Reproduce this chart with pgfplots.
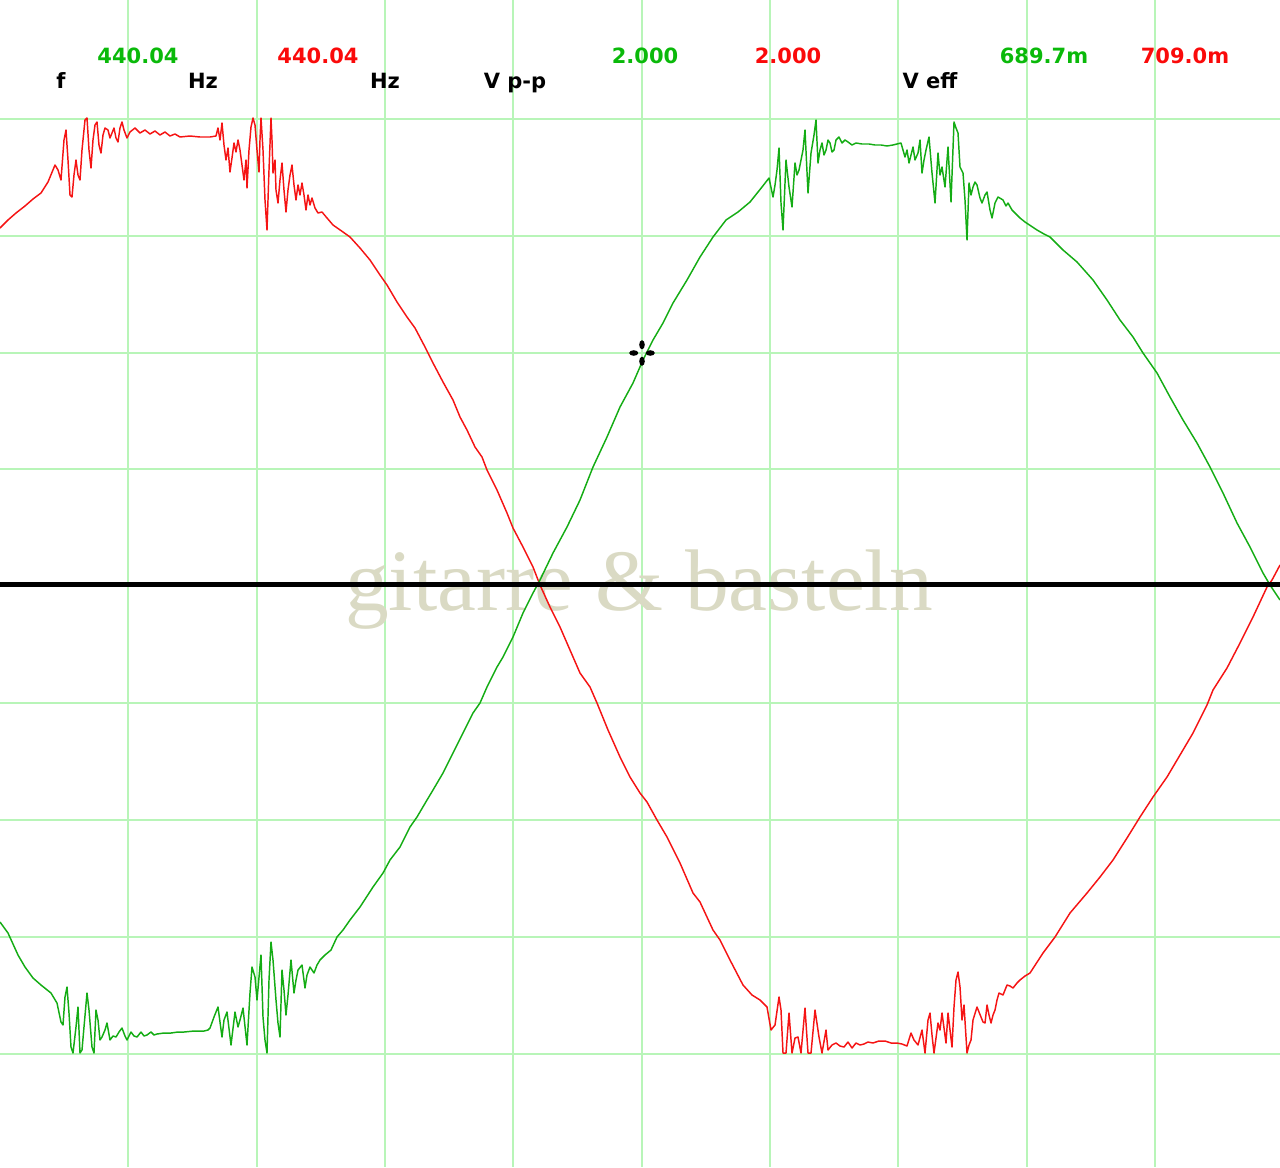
\documentclass[border=0pt]{standalone}
\usepackage{pgfplots}
\pgfplotsset{compat=1.18}
\usepackage{fontspec}
\setmainfont{DejaVu Sans}
\newfontfamily\wmfont{Liberation Serif}
\definecolor{gridg}{RGB}{184,245,184}
\definecolor{trred}{RGB}{245,20,20}
\definecolor{trgreen}{RGB}{20,172,20}
\definecolor{txgreen}{RGB}{10,185,10}
\definecolor{txred}{RGB}{250,10,10}
\definecolor{wmcol}{RGB}{218,218,196}
\pgfdeclareplotmark{cursor}{%
  \pgfpathellipse{\pgfpoint{0pt}{6.2pt}}{\pgfpoint{2.1pt}{0pt}}{\pgfpoint{0pt}{3.4pt}}%
  \pgfpathellipse{\pgfpoint{0pt}{-6.2pt}}{\pgfpoint{2.1pt}{0pt}}{\pgfpoint{0pt}{3.4pt}}%
  \pgfpathellipse{\pgfpoint{6.2pt}{0pt}}{\pgfpoint{3.4pt}{0pt}}{\pgfpoint{0pt}{2.1pt}}%
  \pgfpathellipse{\pgfpoint{-6.2pt}{0pt}}{\pgfpoint{3.4pt}{0pt}}{\pgfpoint{0pt}{2.1pt}}%
  \pgfusepathqfill}
\begin{document}
\begin{tikzpicture}
\begin{axis}[
  name=ax,
  width=960pt, height=875.25pt, scale only axis,
  xmin=0, xmax=1280, ymin=0, ymax=1167, y dir=reverse,
  axis line style={draw=none}, tick style={draw=none}, major tick length=0pt,
  xtick={128.3,256.7,385,513.3,641.7,770,898.3,1026.7,1154.5},
  ytick={118.5,235.5,352.5,469,585,703,820,937,1054},
  xticklabels={}, yticklabels={},
  grid=major, grid style={color=gridg, line width=1.5pt},
  clip=true,
]
\node[font=\wmfont\fontsize{65.6pt}{70pt}\selectfont, text=wmcol, anchor=base, inner sep=0pt] at (axis cs:639,610) {gitarre \& basteln};

% red trace
\addplot[trred, line width=1.1pt, line join=round] coordinates {
(0,228) (8,220) (16,213) (25,206) (33,199) (41,193) (48,182) (55,165) (58,170) (61,180) (64,140) (66,130) (68,160) (70,195) (72,197) (74,175) (76,160) (78,175) (80,180) (82,150) (85,120) (87,118) (89,150) (91,168) (93,140) (95,125) (97,122) (99,145) (101,153) (103,135) (105,128) (108,130) (110,138) (112,133) (114,128) (116,138) (118,142) (120,128) (122,122) (124,130) (127,138) (130,132) (135,128) (140,133) (145,130) (150,134) (155,131) (160,135) (165,132) (170,136) (175,134) (180,137) (190,136) (200,137) (210,137) (216,136) (218,128) (220,140) (222,123) (224,145) (226,160) (228,148) (230,172) (232,158) (234,143) (236,152) (238,140) (240,150) (242,165) (244,180) (246,160) (247,188) (249,150) (251,127) (253,118) (255,125) (257,150) (259,172) (260,140) (261,118) (263,150) (265,200) (267,230) (269,170) (271,118) (272,140) (273,173) (275,160) (276,190) (278,203) (280,180) (282,163) (284,190) (286,212) (288,190) (290,175) (292,165) (294,185) (296,200) (298,185) (300,195) (302,183) (304,195) (306,210) (308,195) (310,205) (312,198) (315,208) (318,213) (322,212) (327,218) (333,225) (343,232) (350,237) (360,248) (370,260) (380,275) (387,285) (397,302) (407,317) (415,328) (425,347) (433,363) (443,382) (453,400) (460,417) (467,430) (475,447) (482,457) (487,470) (497,490) (507,513) (513,528) (523,547) (533,567) (540,585) (550,607) (560,627) (570,650) (580,673) (590,687) (597,703) (608,730) (620,757) (630,777) (640,793) (647,802) (657,820) (667,837) (680,863) (693,893) (700,902) (713,930) (720,940) (730,960) (743,985) (752,995) (760,1000) (767,1007) (771,1030) (775,1025) (779,997) (781,1010) (783,1053) (786,1053) (789,1013) (792,1053) (795,1038) (798,1037) (801,1053) (805,1008) (808,1053) (811,1053) (815,1010) (819,1037) (822,1053) (826,1030) (828,1050) (832,1045) (836,1043) (840,1046) (844,1047) (848,1042) (852,1048) (856,1043) (860,1045) (864,1044) (868,1042) (873,1043) (879,1041) (885,1041) (891,1043) (897,1043) (902,1044) (907,1046) (911,1033) (914,1040) (918,1045) (922,1030) (925,1053) (928,1020) (930,1013) (932,1035) (934,1053) (938,1023) (940,1030) (942,1013) (946,1043) (948,1013) (950,1030) (952,1047) (954,1007) (956,980) (958,972) (960,987) (962,1020) (964,1005) (967,1053) (969,1045) (971,1040) (973,1020) (977,1007) (979,1012) (981,1017) (983,1022) (985,1023) (987,1005) (989,1015) (991,1023) (993,1015) (995,1010) (997,1000) (999,993) (1003,995) (1007,985) (1010,986) (1013,988) (1017,983) (1020,980) (1025,976) (1030,973) (1043,953) (1055,937) (1070,913) (1087,893) (1100,877) (1113,860) (1127,838) (1140,817) (1153,797) (1167,777) (1180,755) (1193,733) (1207,705) (1213,690) (1227,668) (1240,643) (1253,617) (1267,587) (1272,580) (1280,565)
};

% green trace
\addplot[trgreen, line width=1.1pt, line join=round] coordinates {
(0,922) (8,933) (18,955) (25,967) (33,978) (41,985) (51,993) (57,1003) (61,1022) (63,1025) (65,997) (67,987) (69,1013) (71,1047) (73,1053) (76,1027) (78,1007) (80,1053) (82,1050) (84,1027) (87,993) (89,1010) (92,1047) (94,1053) (96,1010) (98,1020) (100,1040) (102,1037) (105,1030) (107,1023) (110,1040) (113,1036) (116,1037) (119,1032) (122,1028) (125,1036) (127,1040) (131,1032) (134,1036) (137,1037) (141,1032) (144,1036) (147,1035) (151,1032) (154,1035) (157,1034) (164,1033) (171,1033) (178,1032) (184,1032) (194,1031) (204,1031) (208,1030) (210,1028) (214,1017) (218,1007) (222,1037) (224,1020) (227,1012) (231,1045) (235,1012) (238,1027) (240,1020) (243,1008) (247,1045) (250,993) (252,967) (255,977) (257,1000) (261,955) (263,1017) (265,1040) (267,1053) (269,980) (271,942) (273,960) (276,1000) (278,1023) (280,1037) (282,970) (284,990) (286,1015) (288,995) (291,960) (294,993) (296,980) (298,970) (302,965) (305,988) (307,975) (310,967) (314,973) (317,965) (320,960) (325,955) (331,950) (337,937) (343,930) (350,920) (360,907) (373,887) (383,873) (390,860) (400,847) (410,827) (417,817) (427,800) (433,790) (443,773) (453,753) (463,733) (473,713) (480,703) (487,687) (497,667) (503,657) (513,637) (523,613) (533,593) (540,580) (553,553) (567,527) (580,500) (593,467) (607,437) (620,407) (633,383) (643,360) (653,340) (663,323) (673,303) (687,280) (700,257) (713,237) (726,220) (738,212) (750,202) (762,187) (769,178) (773,197) (775,185) (777,170) (779,148) (781,203) (783,230) (786,160) (789,187) (792,207) (795,163) (797,175) (799,170) (801,160) (803,150) (805,130) (808,193) (811,153) (814,135) (816,120) (818,163) (820,150) (822,143) (824,155) (826,150) (828,140) (830,143) (832,152) (834,150) (836,140) (839,137) (842,143) (845,140) (848,142) (852,145) (856,143) (862,144) (869,144) (875,145) (881,145) (887,146) (893,145) (901,143) (905,157) (907,150) (909,163) (911,155) (913,147) (915,160) (918,153) (920,140) (922,173) (924,160) (926,150) (929,137) (932,173) (935,203) (938,153) (940,175) (942,167) (945,187) (948,147) (951,202) (954,122) (956,128) (958,133) (960,167) (963,173) (965,200) (967,240) (969,183) (971,195) (973,187) (975,182) (977,185) (980,198) (982,203) (985,195) (987,192) (990,210) (992,218) (995,203) (998,197) (1003,200) (1006,206) (1008,203) (1012,210) (1015,213) (1020,218) (1025,222) (1031,226) (1037,230) (1044,234) (1050,237) (1063,250) (1077,262) (1093,280) (1107,300) (1120,320) (1133,337) (1143,353) (1157,373) (1170,397) (1183,420) (1197,443) (1210,467) (1223,493) (1237,523) (1250,547) (1263,573) (1270,585) (1280,600)
};

% zero line
\addplot[black, line width=3.4pt] coordinates {(0,584.5) (1280,584.5)};

% cursor
\addplot[only marks, mark=cursor, black] coordinates {(642,353)};

% readouts
\begin{scope}[font=\fontsize{15.75pt}{18pt}\selectfont\bfseries, inner sep=0pt]
\node[anchor=base, text=black] at (axis cs:61,88) {f};
\node[anchor=base, text=txgreen] at (axis cs:138,63) {440.04};
\node[anchor=base, text=black] at (axis cs:203,88) {Hz};
\node[anchor=base, text=txred] at (axis cs:318,63) {440.04};
\node[anchor=base, text=black] at (axis cs:385,88) {Hz};
\node[anchor=base, text=black] at (axis cs:515,88) {V p-p};
\node[anchor=base, text=txgreen] at (axis cs:645,63) {2.000};
\node[anchor=base, text=txred] at (axis cs:788,63) {2.000};
\node[anchor=base, text=black] at (axis cs:930,88) {V eff};
\node[anchor=base, text=txgreen] at (axis cs:1044,63) {689.7m};
\node[anchor=base, text=txred] at (axis cs:1185,63) {709.0m};
\end{scope}
\end{axis}
\pgfresetboundingbox
\path[use as bounding box] (ax.south west) rectangle (ax.north east);
\end{tikzpicture}
\end{document}
